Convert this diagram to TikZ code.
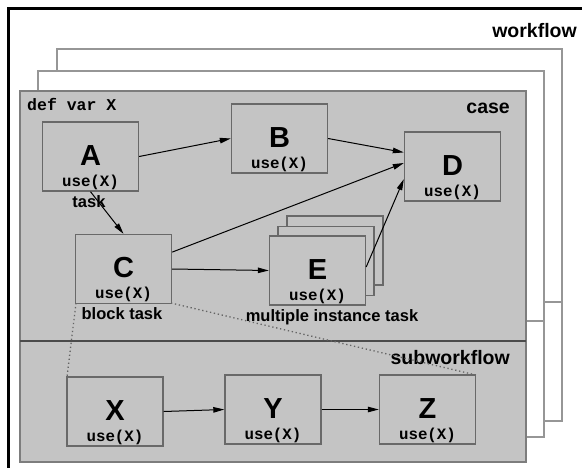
\documentclass[tikz,border=0pt]{standalone}
\usepackage{fontspec}
\setmainfont{Liberation Sans}
\setmonofont{Liberation Mono}
\usetikzlibrary{arrows.meta,calc}

\definecolor{casegray}{RGB}{196,196,196}
\definecolor{boxgray}{RGB}{105,105,105}
\definecolor{framegray}{RGB}{150,150,150}
\definecolor{edgegray}{RGB}{125,125,125}
\definecolor{dividergray}{RGB}{75,75,75}
\definecolor{linkgray}{RGB}{100,100,100}

% one task: a box, its big letter and the use(X) line
\newcommand{\mktask}[3]{%
  \node[taskbox] (#1) at (#2) {};
  \node[tasklet] (#1-name) at ($(#1.center)+(0,-1)$) {#3};
  \node[usetext] (#1-use) at ($(#1.south)+(0,-9.5)$) {use(X)};
}

\begin{document}
\begin{tikzpicture}[x=1pt,y=-1pt,
  backframe/.style={draw=framegray, line width=1.4pt, fill=white},
  casearea/.style={draw=edgegray, line width=1.4pt, fill=casegray},
  divider/.style={draw=dividergray, line width=1.1pt},
  taskbox/.style={draw=boxgray, line width=1.4pt, fill=casegray,
    minimum width=96pt, minimum height=69pt, inner sep=0pt},
  tasklet/.style={font=\fontsize{29}{29}\bfseries\selectfont, inner sep=0pt},
  usetext/.style={font=\fontsize{15.8}{16}\ttfamily\bfseries\selectfont, inner sep=0pt},
  lbl/.style={font=\fontsize{16.5}{17}\bfseries\selectfont, inner sep=0pt},
  biglbl/.style={font=\fontsize{19.5}{20}\bfseries\selectfont, inner sep=0pt},
  flow/.style={draw=black, line width=1pt, -{Triangle[length=11pt,width=5.5pt]}},
  link/.style={draw=linkgray, line width=1.3pt, dash pattern=on 1.3pt off 2.7pt}]

\useasboundingbox (0,0) rectangle (582,467);
\clip (0,0) rectangle (582,467);

% outer workflow frame
\draw[line width=2.6pt, fill=white] (8.5,8.5) rectangle (600,490);
\node[biglbl, anchor=east] (wflabel) at (577,31) {workflow};

% stacked cases behind the front one
\draw[backframe] (57,49) rectangle (562,421);
\draw[divider, draw=framegray] (57,302) -- (562,302);
\draw[backframe] (38,71) rectangle (544,437);
\draw[divider, draw=framegray] (38,321) -- (544,321);

% front case with its subworkflow part
\draw[casearea] (20,91) rectangle (526,462);
\draw[divider] (20,341) -- (526,341);

\node[usetext, font=\fontsize{16.5}{17}\ttfamily\bfseries\selectfont, anchor=west] (defvar) at (27,104) {def var X};
\node[biglbl, anchor=east] (caselabel) at (510,108) {case};
\node[biglbl, anchor=east] (sublabel) at (510,358) {subworkflow};

% links from the block task to its subworkflow
\coordinate (cSW) at (76,303);
\coordinate (cSE) at (171,303);
\coordinate (xNW) at (67,377);
\coordinate (zNE) at (476,375);
\draw[link] (cSW) -- (xNW);
\draw[link] (cSE) -- (zNE);

% tasks of the case
\mktask{A}{90.5,156.5}{A}
\mktask{B}{279.5,138.5}{B}
\mktask{D}{452.5,166.5}{D}
\mktask{C}{123.5,269}{C}
\node[taskbox] (E3) at (335,250.5) {};
\node[taskbox] (E2) at (326,261) {};
\mktask{E}{317.5,270.5}{E}

\node[lbl] (tasklabel) at (89,202) {task};
\node[lbl] (blocklabel) at (122,314) {block task};
\node[lbl] (multilabel) at (332,317) {multiple instance task};

% tasks of the subworkflow
\mktask{X}{115,411.5}{X}
\mktask{Y}{273,409.5}{Y}
\mktask{Z}{427.5,409.5}{Z}

% control flow
\draw[flow] (A.east) -- (B.west);
\draw[flow] (A.south) -- (C.north);
\draw[flow] (B.east) -- ($(D.north west)!0.3!(D.south west)$);
\draw[flow] ($(C.north east)!0.26!(C.south east)$) -- ($(D.north west)!0.45!(D.south west)$);
\draw[flow] (C.east) -- (E.west);
\draw[flow] ($(E.north east)!0.45!(E.south east)$) -- ($(D.north west)!0.68!(D.south west)$);
\draw[flow] (X.east) -- (Y.west);
\draw[flow] (Y.east) -- (Z.west);
\end{tikzpicture}
\end{document}
